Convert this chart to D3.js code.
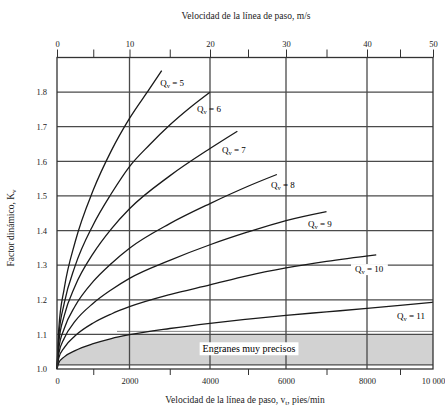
<!DOCTYPE html>
<html>
<head>
<meta charset="utf-8">
<script src="https://cdn.jsdelivr.net/npm/d3@7"></script>
<style>
body { margin: 0; background: #fff; }
svg { font-family: "Liberation Serif", "DejaVu Serif", serif; }
</style>
</head>
<body>
<div id="chart"></div>
<script>
// velocidad en pies/min (eje inferior) y factor dinamico Kv
var qvLevels = [5, 6, 7, 8, 9, 10, 11];

var speed5  = [0, 50, 200, 500, 1000, 1500, 2000, 2500, 2800];
var kv5     = [1.0, 1.117, 1.233, 1.367, 1.517, 1.631, 1.724, 1.81, 1.862];

var speed6  = [0, 50, 200, 500, 1000, 1500, 2000, 2500, 3000, 3500, 4000];
var kv6     = [1.0, 1.096, 1.19, 1.298, 1.417, 1.507, 1.585, 1.648, 1.705, 1.755, 1.80];

var speed7  = [0, 50, 200, 500, 1000, 1500, 2000, 3000, 4000, 4720];
var kv7     = [1.0, 1.078, 1.154, 1.24, 1.334, 1.405, 1.463, 1.558, 1.637, 1.687];

var speed8  = [0, 50, 200, 500, 1000, 1500, 2000, 3000, 4000, 5000, 5760];
var kv8     = [1.0, 1.06, 1.117, 1.182, 1.253, 1.305, 1.349, 1.42, 1.478, 1.528, 1.562];

var speed9  = [0, 50, 200, 500, 1000, 1500, 2000, 3000, 4000, 5000, 6000, 7000];
var kv9     = [1.0, 1.045, 1.089, 1.138, 1.19, 1.229, 1.262, 1.314, 1.359, 1.396, 1.429, 1.455];

var speed10 = [0, 50, 200, 500, 1000, 1500, 2000, 3000, 4000, 5000, 6000, 7000, 8280];
var kv10    = [1.0, 1.032, 1.062, 1.096, 1.133, 1.159, 1.18, 1.215, 1.243, 1.27, 1.292, 1.311, 1.33];

var speed11 = [0, 50, 200, 500, 1000, 1500, 2000, 3000, 4000, 5000, 6000, 7000, 8000, 9000, 10000];
var kv11    = [1.0, 1.018, 1.035, 1.053, 1.073, 1.088, 1.099, 1.117, 1.132, 1.144, 1.155, 1.165, 1.175, 1.184, 1.193];

// donde va cada etiqueta Qv (velocidad, Kv)
var labelSpeed = [2765, 3679, 4316, 5605, 6543, 7704, 8909];
var labelKv    = [1.818, 1.743, 1.625, 1.524, 1.409, 1.28, 1.144];

var kvTicks   = [1.0, 1.1, 1.2, 1.3, 1.4, 1.5, 1.6, 1.7, 1.8];
var ftTicks   = [0, 1000, 2000, 3000, 4000, 5000, 6000, 7000, 8000, 9000, 10000];
var msTicks   = [0, 5, 10, 15, 20, 25, 30, 35, 40, 45, 50];
var ftLabels  = ["0", "", "2000", "", "4000", "", "6000", "", "8000", "", "10 000"];
var bandLimit = [1.012, 1.1]; // zona "Engranes muy precisos"

var speeds = [speed5, speed6, speed7, speed8, speed9, speed10, speed11];
var kvs    = [kv5, kv6, kv7, kv8, kv9, kv10, kv11];

var W = 445, H = 410;
var svg = d3.select("#chart").append("svg")
    .attr("width", W)
    .attr("height", H);

// la rejilla del original no es del todo uniforme
var x = d3.scaleLinear()
    .domain([0, 2000, 4000, 6000, 8000, 10000])
    .range([57, 129.5, 210, 286, 367, 433]);
var xTop = d3.scaleLinear()
    .domain([0, 10, 20, 30, 40, 50])
    .range([57, 129.5, 210, 286, 367, 433]);
var y = d3.scaleLinear().domain([1.0, 1.9]).range([369, 57.5]);

var gridColor = "#4a4a4a";

// zona gris
var band = speed11.map(function(s, i) {
    return { v: s, k: Math.min(kv11[i], bandLimit[1]) };
});
svg.append("path")
    .datum(band)
    .attr("fill", "#d2d2d2")
    .attr("d", d3.area()
        .x(function(d) { return x(d.v); })
        .y0(y(bandLimit[0]))
        .y1(function(d) { return y(d.k); })
        .curve(d3.curveMonotoneX));

// rejilla
svg.append("g").selectAll("line")
    .data(kvTicks.slice(1))
    .enter().append("line")
    .attr("x1", x(0)).attr("x2", x(10000))
    .attr("y1", function(d) { return y(d); })
    .attr("y2", function(d) { return y(d); })
    .attr("stroke", gridColor).attr("stroke-width", 1.3);

svg.append("line")
    .attr("x1", x(0)).attr("x2", x(10000))
    .attr("y1", y(bandLimit[0])).attr("y2", y(bandLimit[0]))
    .attr("stroke", gridColor).attr("stroke-width", 1.1);
svg.append("line")
    .attr("x1", x(0) + 60).attr("x2", x(10000))
    .attr("y1", y(bandLimit[1]) - 3).attr("y2", y(bandLimit[1]) - 3)
    .attr("stroke", "#777").attr("stroke-width", 0.9);

svg.append("g").selectAll("line")
    .data([2000, 4000, 6000, 8000])
    .enter().append("line")
    .attr("x1", function(d) { return x(d); })
    .attr("x2", function(d) { return x(d); })
    .attr("y1", y(1.0)).attr("y2", y(1.9))
    .attr("stroke", gridColor).attr("stroke-width", 1.3);

// caja "Engranes muy precisos"
var boxText = svg.append("text")
    .attr("x", 249).attr("y", y(1.055))
    .attr("text-anchor", "middle")
    .attr("dominant-baseline", "middle")
    .attr("font-size", 10)
    .text("Engranes muy precisos");
var bb = boxText.node().getBBox();
svg.insert("rect", "text")
    .attr("x", bb.x - 3).attr("y", bb.y - 1)
    .attr("width", bb.width + 6).attr("height", bb.height + 2)
    .attr("fill", "#fff");

// curvas
var line = d3.line()
    .x(function(d) { return x(d[0]); })
    .y(function(d) { return y(d[1]); })
    .curve(d3.curveMonotoneX);

speeds.forEach(function(s, i) {
    var pts = s.map(function(v, j) { return [v, kvs[i][j]]; });
    svg.append("path")
        .attr("fill", "none")
        .attr("stroke", "#1a1a1a")
        .attr("stroke-width", 1.3)
        .attr("d", line(pts));
});

// etiquetas Qv
qvLevels.forEach(function(q, i) {
    var t = svg.append("text")
        .attr("x", x(labelSpeed[i]))
        .attr("y", y(labelKv[i]))
        .attr("font-size", 9);
    var tb;
    t.append("tspan").text("Q");
    t.append("tspan").attr("font-size", 6.5).attr("dy", 2).text("v");
    t.append("tspan").attr("dy", -2).text(" = " + q);
    if (i >= 5) {
        tb = t.node().getBBox();
        svg.insert("rect", function() { return t.node(); })
            .attr("x", tb.x - 4).attr("y", tb.y)
            .attr("width", Math.min(tb.width + 8, x(10000) - tb.x + 3))
            .attr("height", tb.height)
            .attr("fill", "#fff");
    }
});

// marco
svg.append("rect")
    .attr("x", x(0)).attr("y", y(1.9))
    .attr("width", x(10000) - x(0))
    .attr("height", y(1.0) - y(1.9))
    .attr("fill", "none")
    .attr("stroke", "#333")
    .attr("stroke-width", 1.3);

// eje superior m/s
var topAxis = svg.append("g")
    .attr("transform", "translate(0," + y(1.9) + ")")
    .call(d3.axisTop(xTop)
        .tickValues(msTicks)
        .tickSize(8)
        .tickPadding(3)
        .tickFormat(function(d) { return d % 10 === 0 ? d : ""; }));

// eje inferior pies/min
var bottomAxis = svg.append("g")
    .attr("transform", "translate(0," + y(1.0) + ")")
    .call(d3.axisBottom(x)
        .tickValues(ftTicks)
        .tickSize(6)
        .tickPadding(3)
        .tickFormat(function(d, i) { return ftLabels[i]; }));
bottomAxis.selectAll(".tick line")
    .attr("y2", function(d) { return d % 2000 === 0 ? 0 : 6; });

// eje izquierdo Kv
var leftAxis = svg.append("g")
    .attr("transform", "translate(" + x(0) + ",0)")
    .call(d3.axisLeft(y)
        .tickValues(kvTicks)
        .tickSize(0)
        .tickPadding(10)
        .tickFormat(d3.format(".1f")));

[topAxis, bottomAxis, leftAxis].forEach(function(g) {
    g.select(".domain").remove();
    g.selectAll("text")
        .attr("font-family", "Liberation Serif")
        .attr("font-size", 8.5)
        .attr("fill", "#222");
    g.selectAll(".tick line").attr("stroke", "#333");
});

// titulos
svg.append("text")
    .attr("x", 246).attr("y", 19)
    .attr("text-anchor", "middle")
    .attr("font-size", 9.5)
    .attr("fill", "#222")
    .text("Velocidad de la línea de paso, m/s");

var bt = svg.append("text")
    .attr("x", 245).attr("y", 403)
    .attr("text-anchor", "middle")
    .attr("font-size", 9.5)
    .attr("fill", "#222");
bt.append("tspan").text("Velocidad de la línea de paso, v");
bt.append("tspan").attr("font-size", 7).attr("dy", 2).text("t");
bt.append("tspan").attr("dy", -2).text(", pies/min");

var yt = svg.append("text")
    .attr("transform", "translate(14,228) rotate(-90)")
    .attr("text-anchor", "middle")
    .attr("font-size", 9.5)
    .attr("fill", "#222");
yt.append("tspan").text("Factor dinámico, K");
yt.append("tspan").attr("font-size", 7).attr("dy", 2).text("v");
</script>
</body>
</html>
